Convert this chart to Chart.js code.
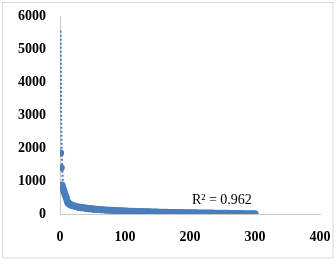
<!DOCTYPE html>
<html>
<head>
<meta charset="utf-8">
<script src="https://cdn.jsdelivr.net/npm/chart.js@4/dist/chart.umd.min.js"></script>
<style>
html,body{margin:0;padding:0;background:#fff;}
#wrap{width:336px;height:264px;position:relative;}
</style>
</head>
<body>
<div id="wrap"><canvas id="c" width="336" height="264"></canvas></div>
<script>
// Observed points (rank x, value y)
const pointX = [1,2,3,4,5,6,7,8,9,10,11,12,13,14,15,16,17,18,19,20,
  22,24,26,28,30,32,34,36,38,40,42,44,46,48,50,52,54,56,58,60,
  63,66,69,72,75,78,81,84,87,90,93,96,99,102,105,108,111,114,117,120,
  123,126,129,132,135,138,141,144,147,150,153,156,159,162,165,168,171,174,177,180,
  183,186,189,192,195,198,201,204,207,210,213,216,219,222,225,228,231,234,237,240,
  243,246,249,252,255,258,261,264,267,270,273,276,279,282,285,288,291,294,297,300];
const pointY = [1850,1400,880,820,760,700,640,580,530,480,400,350,330,310,295,285,275,265,258,250,
  240,230,222,214,207,200,194,188,182,176,171,166,161,157,153,149,145,142,139,136,
  132,128,124,120,116,113,110,107,104,101,98,95,92,89,87,85,83,81,79,77,
  75,73,71,69,67,65,63,61,59,57,56,54,53,51,50,49,48,47,46,45,
  44,43,42,41,40,39,38,37,36,35,34,33,32,31,30,29,28,27,26,25,
  24,23,22,21,20,19,18,17,16,15,14,13,12,11,10,9,8,7,6,5];
// Dotted trendline
const trendX = [1,1.5,2,3,4,5,7,10,15,20,30,50,100,200,300];
const trendY = [5550,3500,2520,1590,1140,890,600,400,250,180,115,64,29,13,8];
// Axis ticks
const xTicks = [0,100,200,300,400];
const yTicks = [0,1000,2000,3000,4000,5000,6000];
const r2Label = 'R\u00B2 = 0.962';

const blue = '#4a7ebb';
const scatterData = pointX.map((x,i)=>({x:x,y:pointY[i]}));
const trendData = trendX.map((x,i)=>({x:x,y:trendY[i]}));

const framePlugin = {
  id:'frame',
  beforeDraw(chart){
    const ctx = chart.ctx;
    ctx.save();
    ctx.fillStyle = '#fff';
    ctx.fillRect(0,0,chart.width,chart.height);
    ctx.strokeStyle = '#d9d9d9';
    ctx.lineWidth = 1;
    ctx.strokeRect(2.5,2.5,330.5,255.5);
    ctx.restore();
  },
  afterDraw(chart){
    const ctx = chart.ctx;
    const xs = chart.scales.x, ys = chart.scales.y;
    ctx.save();
    ctx.fillStyle = '#000';
    ctx.font = '14px "Liberation Serif"';
    ctx.textAlign = 'center';
    ctx.textBaseline = 'middle';
    ctx.fillText(r2Label, xs.getPixelForValue(249), ys.getPixelForValue(420));
    ctx.restore();
  }
};

const tickFont = {family:'"Liberation Serif"', size:14, weight:'bold'};

new Chart(document.getElementById('c'), {
  type:'scatter',
  data:{
    datasets:[
      {label:'trend', data:trendData, showLine:true, borderColor:blue, borderWidth:2,
       borderDash:[2,2], pointRadius:0, fill:false, tension:0, order:0},
      {label:'data', data:scatterData, backgroundColor:blue, borderWidth:0,
       pointRadius:3.5, order:1}
    ]
  },
  options:{
    responsive:false, animation:false, devicePixelRatio:1,
    layout:{padding:{left:0,right:16,top:16,bottom:0}},
    plugins:{legend:{display:false}, tooltip:{enabled:false}},
    scales:{
      x:{type:'linear', min:0, max:400,
         afterBuildTicks(s){ s.ticks = xTicks.map(v=>({value:v})); },
         afterFit(s){ s.height = 50; s.paddingLeft = 0; s.paddingRight = 0; },
         grid:{display:false, drawTicks:false},
         border:{display:true, color:'#c8c8c8', width:1},
         ticks:{padding:15, color:'#000', font:tickFont, callback:(v)=>String(v)}},
      y:{type:'linear', min:0, max:6000,
         afterBuildTicks(s){ s.ticks = yTicks.map(v=>({value:v})); },
         afterFit(s){ s.width = 60; s.paddingTop = 0; s.paddingBottom = 0; },
         grid:{display:false, drawTicks:false},
         border:{display:true, color:'#c8c8c8', width:1},
         ticks:{padding:14, color:'#000', font:tickFont, callback:(v)=>String(v)}}
    }
  },
  plugins:[framePlugin]
});
</script>
</body>
</html>
